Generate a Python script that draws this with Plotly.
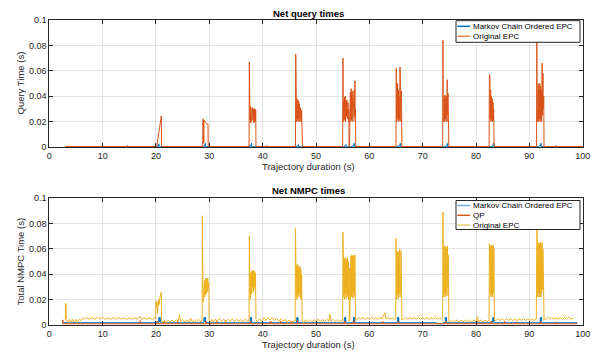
import plotly.graph_objects as go

# ---------------- data ----------------
x_ticks = [0, 10, 20, 30, 40, 50, 60, 70, 80, 90, 100]
y_ticks = [0, 0.02, 0.04, 0.06, 0.08, 0.1]
y_tick_text = ["0", "0.02", "0.04", "0.06", "0.08", "0.1"]

# Net query times - Markov Chain Ordered EPC
q_mc = [(3.0, 0.0002), (20.3, 0.0002), (20.35, 0.0015), (20.45, 0.001), (20.55, 0.0025), (20.6, 0.0002),
        (29.0, 0.0002), (29.05, 0.0015), (29.15, 0.001), (29.25, 0.003), (29.3, 0.0002),
        (37.65, 0.0002), (37.7, 0.0015), (37.8, 0.001), (37.9, 0.003), (37.95, 0.0002),
        (46.45, 0.0002), (46.5, 0.0012), (46.6, 0.001), (46.7, 0.002), (46.75, 0.0002),
        (55.35, 0.0002), (55.4, 0.0012), (55.5, 0.001), (55.6, 0.002), (55.65, 0.0002),
        (56.9, 0.0002), (56.95, 0.0015), (57.05, 0.001), (57.15, 0.003), (57.2, 0.0002),
        (65.55, 0.0002), (65.6, 0.0015), (65.7, 0.001), (65.8, 0.003), (65.85, 0.0002),
        (74.4, 0.0002), (74.45, 0.0015), (74.55, 0.001), (74.65, 0.0028), (74.7, 0.0002),
        (83.05, 0.0002), (83.1, 0.0015), (83.2, 0.001), (83.3, 0.003), (83.35, 0.0002),
        (91.95, 0.0002), (92.0, 0.0015), (92.1, 0.001), (92.2, 0.003), (92.25, 0.0002),
        (100.0, 0.0002)]

# Net query times - Original EPC
q_orig = [(3.0, 0.0004), (14.6, 0.0004), (14.65, 0.0012), (14.7, 0.0004),
          (20.15, 0.0004), (20.2, 0.002), (20.5, 0.01), (20.8, 0.019), (21.0, 0.0245), (21.05, 0.001), (21.1, 0.0004),
          (28.75, 0.0004), (28.8, 0.0222), (28.9, 0.0218), (28.95, 0.003), (29.0, 0.0212), (29.2, 0.020),
          (29.4, 0.019), (29.6, 0.0178), (29.75, 0.018), (29.8, 0.0004),
          (37.45, 0.0004), (37.5, 0.067), (37.55, 0.0185), (37.6, 0.03), (37.65, 0.021), (37.7, 0.032),
          (37.75, 0.019), (37.8, 0.031), (37.9, 0.02), (38.0, 0.0305), (38.05, 0.022), (38.1, 0.031),
          (38.2, 0.021), (38.3, 0.03), (38.35, 0.019), (38.45, 0.03), (38.5, 0.02), (38.6, 0.03),
          (38.65, 0.02), (38.7, 0.029), (38.75, 0.0004),
          (40.7, 0.0004), (40.75, 0.0012), (40.8, 0.0004),
          (46.15, 0.0004), (46.2, 0.073), (46.25, 0.031), (46.3, 0.04), (46.35, 0.02), (46.45, 0.038),
          (46.5, 0.022), (46.6, 0.037), (46.65, 0.02), (46.75, 0.036), (46.8, 0.021), (46.9, 0.034),
          (47.0, 0.02), (47.1, 0.031), (47.2, 0.02), (47.3, 0.029), (47.35, 0.02), (47.4, 0.027), (47.45, 0.0004),
          (55.0, 0.0004), (55.05, 0.070), (55.1, 0.02), (55.2, 0.036), (55.25, 0.022), (55.35, 0.039),
          (55.4, 0.021), (55.5, 0.04), (55.55, 0.02), (55.65, 0.036), (55.7, 0.024), (55.8, 0.037),
          (55.9, 0.022), (56.0, 0.035), (56.1, 0.02), (56.15, 0.03), (56.2, 0.0004), (56.3, 0.0004),
          (56.35, 0.025), (56.45, 0.043), (56.5, 0.02), (56.6, 0.046), (56.7, 0.021), (56.8, 0.044),
          (56.9, 0.02), (57.0, 0.04), (57.05, 0.022), (57.15, 0.045), (57.2, 0.024), (57.3, 0.052),
          (57.35, 0.02), (57.4, 0.03), (57.45, 0.0004),
          (65.0, 0.0004), (65.05, 0.062), (65.1, 0.02), (65.15, 0.04), (65.2, 0.021), (65.3, 0.05),
          (65.35, 0.022), (65.45, 0.045), (65.5, 0.02), (65.6, 0.04), (65.65, 0.021), (65.75, 0.063),
          (65.8, 0.03), (65.85, 0.05), (65.9, 0.02), (66.0, 0.044), (66.05, 0.03), (66.1, 0.0004),
          (73.75, 0.0004), (73.8, 0.084), (73.85, 0.02), (73.9, 0.042), (73.95, 0.021), (74.05, 0.04),
          (74.1, 0.02), (74.2, 0.041), (74.25, 0.022), (74.35, 0.038), (74.4, 0.02), (74.5, 0.04),
          (74.55, 0.02), (74.6, 0.053), (74.65, 0.025), (74.75, 0.042), (74.8, 0.03), (74.9, 0.0004),
          (82.45, 0.0004), (82.5, 0.057), (82.55, 0.02), (82.6, 0.055), (82.65, 0.022), (82.75, 0.045),
          (82.8, 0.02), (82.9, 0.04), (82.95, 0.021), (83.05, 0.038), (83.1, 0.02), (83.2, 0.035),
          (83.25, 0.021), (83.3, 0.03), (83.4, 0.0004),
          (91.35, 0.0004), (91.4, 0.082), (91.45, 0.02), (91.5, 0.055), (91.55, 0.021), (91.65, 0.05),
          (91.7, 0.02), (91.8, 0.045), (91.85, 0.022), (91.95, 0.05), (92.0, 0.02), (92.1, 0.048),
          (92.15, 0.021), (92.25, 0.045), (92.3, 0.02), (92.4, 0.066), (92.45, 0.025), (92.55, 0.058),
          (92.6, 0.03), (92.7, 0.04), (92.75, 0.0004),
          (95.0, 0.0004), (95.05, 0.0012), (95.1, 0.0004), (100.0, 0.0004)]

# Net NMPC times - Markov Chain Ordered EPC
n_mc = [(2.7, 0.0018), (20.5, 0.0018), (20.55, 0.006), (20.6, 0.0025), (20.65, 0.0058), (20.7, 0.0025),
        (20.75, 0.006), (20.8, 0.0025), (20.85, 0.0058), (20.9, 0.0018),
        (28.95, 0.0018), (29.0, 0.006), (29.05, 0.0025), (29.1, 0.0058), (29.15, 0.0025), (29.2, 0.006),
        (29.25, 0.0025), (29.3, 0.0058), (29.35, 0.0018),
        (37.65, 0.0018), (37.7, 0.006), (37.75, 0.0025), (37.8, 0.0058), (37.85, 0.0025), (37.9, 0.006), (37.95, 0.0018),
        (46.35, 0.0018), (46.4, 0.006), (46.45, 0.0025), (46.5, 0.0058), (46.55, 0.0025), (46.6, 0.006), (46.65, 0.0018),
        (55.3, 0.0018), (55.35, 0.006), (55.4, 0.0025), (55.45, 0.0058), (55.5, 0.0025), (55.55, 0.006), (55.6, 0.0018),
        (57.0, 0.0018), (57.05, 0.006), (57.1, 0.0025), (57.15, 0.0058), (57.2, 0.0025), (57.25, 0.006), (57.3, 0.0018),
        (65.25, 0.0018), (65.3, 0.006), (65.35, 0.0025), (65.4, 0.0058), (65.45, 0.0025), (65.5, 0.006), (65.55, 0.0018),
        (72.6, 0.0018), (72.8, 0.001), (73.6, 0.001), (73.8, 0.0018),
        (74.2, 0.0018), (74.25, 0.006), (74.3, 0.0025), (74.35, 0.0058), (74.4, 0.0025), (74.45, 0.006), (74.5, 0.0018),
        (83.1, 0.0018), (83.15, 0.006), (83.2, 0.0025), (83.25, 0.0058), (83.3, 0.0025), (83.35, 0.006), (83.4, 0.0018),
        (92.0, 0.0018), (92.05, 0.006), (92.1, 0.0025), (92.15, 0.0058), (92.2, 0.0025), (92.25, 0.006),
        (92.3, 0.0025), (92.35, 0.0018), (99.0, 0.0018)]

# Net NMPC times - QP
n_qp = [(2.5, 0.001), (2.55, 0.004), (2.6, 0.001), (17.0, 0.001), (17.05, 0.0035), (17.1, 0.001),
        (20.2, 0.001), (20.25, 0.003), (20.3, 0.001), (21.5, 0.001), (21.55, 0.003), (21.6, 0.001),
        (24.0, 0.001), (24.05, 0.0035), (24.1, 0.001), (29.3, 0.001), (29.35, 0.003), (29.4, 0.001),
        (31.4, 0.001), (31.45, 0.003), (31.5, 0.001), (33.0, 0.001), (33.05, 0.0035), (33.1, 0.001),
        (37.6, 0.001), (37.65, 0.003), (37.7, 0.001), (41.5, 0.001), (41.55, 0.003), (41.6, 0.001),
        (43.3, 0.001), (43.35, 0.0032), (43.4, 0.001), (45.3, 0.001), (45.35, 0.003), (45.4, 0.001),
        (46.5, 0.001), (46.55, 0.0035), (46.6, 0.001), (55.4, 0.001), (55.45, 0.003), (55.5, 0.001),
        (57.1, 0.001), (57.15, 0.0035), (57.2, 0.001), (62.5, 0.001), (62.55, 0.0028), (62.6, 0.001),
        (65.4, 0.001), (65.45, 0.003), (65.5, 0.001), (74.3, 0.001), (74.35, 0.003), (74.4, 0.001),
        (80.1, 0.001), (80.15, 0.0035), (80.2, 0.001), (82.8, 0.001), (82.85, 0.003), (82.9, 0.001),
        (85.4, 0.001), (85.45, 0.0028), (85.5, 0.001), (87.5, 0.001), (87.55, 0.0025), (87.6, 0.001),
        (92.1, 0.001), (92.15, 0.003), (92.2, 0.001), (95.0, 0.001), (95.05, 0.0025), (95.1, 0.001),
        (99.0, 0.001)]

# Net NMPC times - Original EPC
n_orig = [(3.0, 0.004), (3.05, 0.017), (3.15, 0.016), (3.2, 0.004), (3.5, 0.002), (3.8, 0.0045), (4.1, 0.002),
          (4.4, 0.0045), (4.7, 0.0025), (5.0, 0.0045), (5.3, 0.002), (5.6, 0.0045), (5.9, 0.0035), (6.2, 0.0055),
          (6.5, 0.0045), (7.0, 0.0058), (7.5, 0.0045), (8.0, 0.006), (8.5, 0.0045), (9.0, 0.0058), (9.5, 0.0046),
          (10.0, 0.006), (10.5, 0.0045), (11.0, 0.0057), (11.5, 0.0044), (12.0, 0.0058), (12.5, 0.0045),
          (13.0, 0.006), (13.5, 0.0046), (14.0, 0.0056), (14.5, 0.0044), (15.0, 0.0058), (15.5, 0.0045),
          (16.0, 0.0057), (16.5, 0.0046), (17.0, 0.0068), (17.3, 0.0045), (17.8, 0.0058), (18.3, 0.0044),
          (18.8, 0.0057), (19.3, 0.0045), (19.8, 0.0058),
          (19.95, 0.005), (20.0, 0.019), (20.1, 0.014), (20.2, 0.018), (20.3, 0.009), (20.45, 0.02),
          (20.6, 0.016), (20.75, 0.022), (20.9, 0.024), (21.0, 0.026), (21.05, 0.004),
          (21.3, 0.002), (21.6, 0.0035), (21.9, 0.0015), (22.2, 0.0035), (22.6, 0.002), (23.0, 0.004),
          (23.4, 0.0025), (23.8, 0.004), (24.2, 0.003), (24.4, 0.0078), (24.6, 0.003), (25.0, 0.0045),
          (25.4, 0.0025), (25.8, 0.004), (26.2, 0.0025), (26.5, 0.0055), (26.8, 0.0025), (27.2, 0.004),
          (27.6, 0.0025), (28.0, 0.0045), (28.4, 0.0025), (28.65, 0.004),
          (28.7, 0.086), (28.75, 0.02), (28.8, 0.03), (28.85, 0.018), (28.95, 0.032), (29.0, 0.021),
          (29.1, 0.035), (29.15, 0.022), (29.25, 0.036), (29.3, 0.024), (29.4, 0.037), (29.45, 0.025),
          (29.55, 0.036), (29.6, 0.026), (29.7, 0.037), (29.8, 0.028), (29.9, 0.033), (29.95, 0.004),
          (30.2, 0.002), (30.5, 0.0045), (30.8, 0.0025), (31.1, 0.0045), (31.5, 0.003), (31.9, 0.005),
          (32.3, 0.003), (32.7, 0.0045), (33.1, 0.0025), (33.5, 0.0045), (33.9, 0.003), (34.3, 0.0048),
          (34.7, 0.0028), (35.1, 0.0045), (35.5, 0.003), (35.9, 0.0042), (36.3, 0.0025), (36.7, 0.0045),
          (37.1, 0.003), (37.45, 0.004),
          (37.5, 0.070), (37.55, 0.022), (37.6, 0.038), (37.65, 0.02), (37.75, 0.041), (37.8, 0.024),
          (37.9, 0.042), (37.95, 0.025), (38.05, 0.043), (38.1, 0.03), (38.2, 0.042), (38.25, 0.026),
          (38.35, 0.043), (38.4, 0.028), (38.5, 0.042), (38.55, 0.03), (38.65, 0.041), (38.75, 0.004),
          (39.0, 0.0025), (39.4, 0.005), (39.8, 0.003), (40.2, 0.0055), (40.6, 0.0035), (41.0, 0.006),
          (41.4, 0.004), (41.8, 0.0058), (42.2, 0.0035), (42.6, 0.0055), (43.0, 0.003), (43.4, 0.005),
          (43.8, 0.0025), (44.2, 0.0045), (44.6, 0.002), (45.0, 0.004), (45.4, 0.002), (45.8, 0.0035),
          (46.1, 0.003),
          (46.15, 0.076), (46.2, 0.025), (46.25, 0.045), (46.3, 0.022), (46.4, 0.047), (46.45, 0.02),
          (46.55, 0.048), (46.6, 0.024), (46.7, 0.046), (46.75, 0.022), (46.85, 0.045), (46.9, 0.025),
          (47.0, 0.046), (47.05, 0.022), (47.15, 0.044), (47.2, 0.02), (47.3, 0.04), (47.4, 0.003),
          (47.7, 0.002), (48.0, 0.004), (48.4, 0.0025), (48.8, 0.0042), (49.2, 0.0025), (49.6, 0.004),
          (50.0, 0.003), (50.4, 0.0045), (50.8, 0.0025), (51.2, 0.0042), (51.6, 0.0028), (52.0, 0.0045),
          (52.4, 0.003), (52.6, 0.0084), (52.8, 0.003), (53.2, 0.0045), (53.6, 0.0028), (54.0, 0.0042),
          (54.4, 0.0025), (54.8, 0.004), (55.0, 0.003),
          (55.05, 0.073), (55.1, 0.02), (55.15, 0.05), (55.2, 0.022), (55.3, 0.052), (55.35, 0.02),
          (55.45, 0.053), (55.5, 0.025), (55.6, 0.05), (55.65, 0.021), (55.75, 0.052), (55.8, 0.024),
          (55.9, 0.053), (55.95, 0.022), (56.05, 0.05), (56.1, 0.02), (56.2, 0.045), (56.25, 0.003),
          (56.35, 0.004), (56.4, 0.045), (56.45, 0.02), (56.55, 0.054), (56.6, 0.022), (56.7, 0.055),
          (56.75, 0.023), (56.85, 0.054), (56.9, 0.021), (57.0, 0.055), (57.05, 0.025), (57.15, 0.054),
          (57.2, 0.022), (57.3, 0.055), (57.4, 0.004),
          (57.7, 0.004), (58.0, 0.006), (58.4, 0.0045), (58.8, 0.006), (59.2, 0.0045), (59.6, 0.0058),
          (60.0, 0.0044), (60.4, 0.006), (60.8, 0.0045), (61.2, 0.0058), (61.6, 0.0045), (62.0, 0.006),
          (62.4, 0.0046), (62.9, 0.0097), (63.1, 0.0046), (63.5, 0.006), (63.9, 0.0045), (64.3, 0.0058),
          (64.7, 0.0045), (64.95, 0.005),
          (65.0, 0.068), (65.05, 0.022), (65.1, 0.055), (65.15, 0.02), (65.25, 0.058), (65.3, 0.024),
          (65.4, 0.057), (65.45, 0.021), (65.55, 0.058), (65.6, 0.025), (65.7, 0.06), (65.75, 0.022),
          (65.8, 0.06), (65.85, 0.03), (65.95, 0.058), (66.05, 0.025), (66.1, 0.004),
          (66.4, 0.0045), (66.8, 0.006), (67.2, 0.0045), (67.6, 0.006), (68.0, 0.0046), (68.4, 0.0058),
          (68.8, 0.0045), (69.2, 0.006), (69.6, 0.0045), (70.0, 0.0058), (70.4, 0.0044), (70.8, 0.006),
          (71.2, 0.0045), (71.6, 0.0058), (72.0, 0.0045), (72.4, 0.006), (72.8, 0.0045), (73.2, 0.0058),
          (73.6, 0.0045), (73.75, 0.005),
          (73.8, 0.089), (73.85, 0.025), (73.9, 0.06), (73.95, 0.022), (74.05, 0.062), (74.1, 0.025),
          (74.2, 0.061), (74.25, 0.022), (74.35, 0.062), (74.4, 0.026), (74.5, 0.06), (74.55, 0.023),
          (74.65, 0.062), (74.7, 0.03), (74.8, 0.055), (74.9, 0.003),
          (75.2, 0.0025), (75.6, 0.0038), (76.0, 0.0025), (76.4, 0.004), (76.8, 0.0025), (77.2, 0.0038),
          (77.6, 0.0025), (78.0, 0.004), (78.4, 0.0026), (78.8, 0.0038), (79.2, 0.0025), (79.6, 0.004),
          (80.0, 0.0025), (80.3, 0.0066), (80.5, 0.0025), (80.9, 0.004), (81.3, 0.0025), (81.7, 0.0038),
          (82.1, 0.0025), (82.45, 0.0035),
          (82.5, 0.064), (82.55, 0.022), (82.6, 0.063), (82.65, 0.025), (82.75, 0.062), (82.8, 0.022),
          (82.9, 0.063), (82.95, 0.024), (83.05, 0.062), (83.1, 0.022), (83.2, 0.063), (83.25, 0.025),
          (83.35, 0.06), (83.45, 0.004),
          (83.7, 0.0035), (84.1, 0.005), (84.5, 0.0035), (84.9, 0.0048), (85.3, 0.0035), (85.7, 0.005),
          (86.1, 0.0036), (86.5, 0.0048), (86.9, 0.0035), (87.3, 0.005), (87.7, 0.0035), (88.1, 0.0048),
          (88.5, 0.0036), (88.9, 0.005), (89.3, 0.0035), (89.7, 0.0048), (90.1, 0.0035), (90.5, 0.005),
          (90.9, 0.0036), (91.3, 0.0045),
          (91.4, 0.075), (91.45, 0.025), (91.5, 0.065), (91.55, 0.022), (91.65, 0.064), (91.7, 0.025),
          (91.8, 0.065), (91.85, 0.022), (91.95, 0.064), (92.0, 0.024), (92.1, 0.065), (92.15, 0.022),
          (92.25, 0.063), (92.3, 0.025), (92.4, 0.065), (92.45, 0.028), (92.55, 0.06), (92.65, 0.035),
          (92.75, 0.004),
          (93.0, 0.0045), (93.4, 0.006), (93.8, 0.0046), (94.2, 0.006), (94.6, 0.0045), (95.0, 0.0058),
          (95.4, 0.0045), (95.8, 0.006), (96.2, 0.0046), (96.6, 0.0058), (97.0, 0.0045), (97.4, 0.006),
          (97.8, 0.0046), (98.25, 0.0055)]

BLUE = "#0072BD"
ORANGE = "#D95319"
YELLOW = "#EDB120"
FONT = "Liberation Sans, Arial, Helvetica, sans-serif"

W, H = 592, 354


def px(x):
    return x / W


def py(y):
    return 1 - y / H


def xs(pairs):
    return [p[0] for p in pairs]


def ys(pairs):
    return [p[1] for p in pairs]


fig = go.Figure()
series = [
    (q_mc, BLUE, "x", "y"),
    (q_orig, ORANGE, "x", "y"),
    (n_mc, BLUE, "x2", "y2"),
    (n_qp, ORANGE, "x2", "y2"),
    (n_orig, YELLOW, "x2", "y2"),
]
for data, col, xa, ya in series:
    fig.add_trace(go.Scatter(x=xs(data), y=ys(data), mode="lines",
                             line=dict(color=col, width=1), xaxis=xa, yaxis=ya,
                             showlegend=False, hoverinfo="skip"))

x_dom = [px(49.3), px(582.7)]
top_dom = [py(147), py(20)]
bot_dom = [py(325), py(198)]

axis_common = dict(showline=True, linecolor="#262626", linewidth=1, mirror="ticks",
                   ticks="inside", ticklen=4, tickcolor="#262626", tickwidth=1,
                   showgrid=True, gridcolor="#e3e3e3", gridwidth=1, zeroline=False,
                   automargin=False,
                   tickfont=dict(family=FONT, size=9, color="#262626"))

fig.update_layout(
    width=W, height=H, margin=dict(l=0, r=0, t=0, b=0, pad=0), autosize=False,
    paper_bgcolor="white", plot_bgcolor="white", showlegend=False,
    xaxis=dict(domain=x_dom, range=[0, 100], tickvals=x_ticks, anchor="y", **axis_common),
    yaxis=dict(domain=top_dom, range=[0, 0.1], tickvals=y_ticks, ticktext=y_tick_text, anchor="x", **axis_common),
    xaxis2=dict(domain=x_dom, range=[0, 100], tickvals=x_ticks, anchor="y2", **axis_common),
    yaxis2=dict(domain=bot_dom, range=[0, 0.1], tickvals=y_ticks, ticktext=y_tick_text, anchor="x2", **axis_common),
)

ann = []
# titles
ann.append(dict(text="<b>Net query times</b>", x=px(308), y=py(13), font=dict(family=FONT, size=9.5, color="black")))
ann.append(dict(text="<b>Net NMPC times</b>", x=px(308.5), y=py(190), font=dict(family=FONT, size=9.5, color="black")))
# x labels
ann.append(dict(text="Trajectory duration (s)", x=px(308), y=py(166), font=dict(family=FONT, size=9.5, color="#262626")))
ann.append(dict(text="Trajectory duration (s)", x=px(308), y=py(344), font=dict(family=FONT, size=9.5, color="#262626")))
# y labels
ann.append(dict(text="Query Time (s)", x=px(20), y=py(83.5), textangle=-90, font=dict(family=FONT, size=9.5, color="#262626")))
ann.append(dict(text="Total NMPC Time (s)", x=px(20), y=py(261.5), textangle=-90, font=dict(family=FONT, size=9.5, color="#262626")))

shapes = []


def legend(box_top, box_bot, items):
    shapes.append(dict(type="rect", xref="paper", yref="paper", x0=px(456), x1=px(580),
                       y0=py(box_bot), y1=py(box_top), line=dict(color="#262626", width=1),
                       fillcolor="white", layer="above"))
    for label, col, yc in items:
        shapes.append(dict(type="line", xref="paper", yref="paper", x0=px(457.3), x1=px(470),
                           y0=py(yc), y1=py(yc), line=dict(color=col, width=1.5), layer="above"))
        ann.append(dict(text=label, x=px(471), y=py(yc), xanchor="left",
                        font=dict(family=FONT, size=8, color="black")))


legend(20.7, 42.3, [("Markov Chain Ordered EPC", BLUE, 26.3), ("Original EPC", "#E4834F", 36.3)])
legend(200.5, 229.5, [("Markov Chain Ordered EPC", "#6FAEDC", 205.5), ("QP", ORANGE, 215.3),
                      ("Original EPC", "#F3CF7E", 225)])

for a in ann:
    a.setdefault("xref", "paper")
    a.setdefault("yref", "paper")
    a.setdefault("showarrow", False)
    a.setdefault("xanchor", "center")
    a.setdefault("yanchor", "middle")

fig.update_layout(annotations=ann, shapes=shapes)
fig.write_html("out.html")
